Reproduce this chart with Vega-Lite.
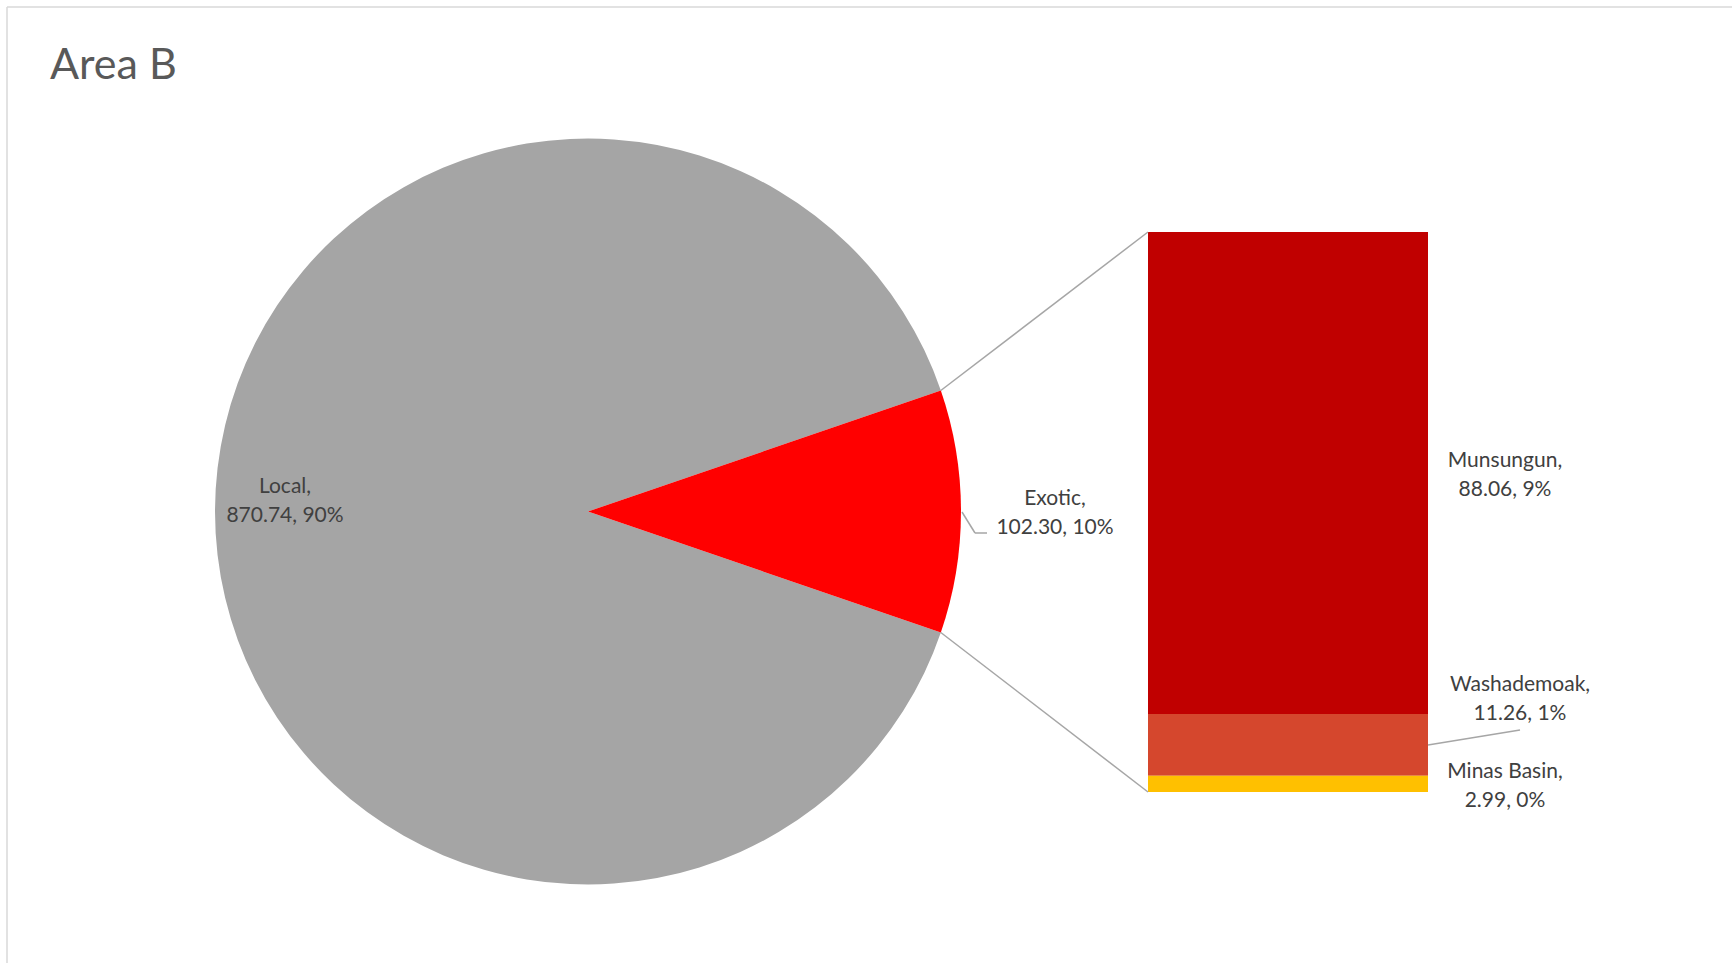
{
  "$schema": "https://vega.github.io/schema/vega-lite/v6.json",
  "width": 1725,
  "height": 956,
  "autosize": {"type": "none"},
  "padding": {"left": 7, "top": 7, "right": 0, "bottom": 0},
  "background": "white",
  "config": {
    "view": {"stroke": null},
    "font": "Lato",
    "text": {"font": "Lato", "fontSize": 21, "color": "#404040", "lineHeight": 29, "lineBreak": "\n", "align": "center", "baseline": "middle"}
  },
  "title": {
    "text": "Area B",
    "font": "Lato",
    "fontSize": 43,
    "fontWeight": "normal",
    "color": "#595959",
    "anchor": "start",
    "frame": "group",
    "baseline": "alphabetic",
    "offset": 0,
    "dx": 43,
    "dy": 116
  },
  "datasets": {
    "pie": [
      {"category": "Local", "value": 870.74, "label": "Local,\n870.74, 90%"},
      {"category": "Exotic", "value": 102.30, "label": "Exotic,\n102.30, 10%"}
    ],
    "bar": [
      {"group": "Exotic", "category": "Munsungun", "value": 88.06, "label": "Munsungun,\n88.06, 9%"},
      {"group": "Exotic", "category": "Washademoak", "value": 11.26, "label": "Washademoak,\n11.26, 1%"},
      {"group": "Exotic", "category": "Minas Basin", "value": 2.99, "label": "Minas Basin,\n2.99, 0%"}
    ]
  },
  "layer": [
    {
      "data": {"name": "pie"},
      "mark": {"type": "arc", "x": 581, "y": 504.5, "outerRadius": 373},
      "encoding": {
        "theta": {"field": "value", "type": "quantitative", "stack": true, "scale": {"range": [1.90108, 8.18427]}},
        "order": {"field": "value", "sort": "descending"},
        "color": {
          "field": "category", "type": "nominal", "legend": null,
          "scale": {
            "domain": ["Local", "Exotic", "Munsungun", "Washademoak", "Minas Basin"],
            "range": ["#A5A5A5", "#FF0000", "#C00000", "#D5472D", "#FFC000"]
          }
        }
      }
    },
    {
      "data": {"name": "pie"},
      "mark": {"type": "text", "x": 581, "y": 504.5, "radius": 303, "dy": -25},
      "encoding": {
        "theta": {"field": "value", "type": "quantitative", "stack": true},
        "order": {"field": "value", "sort": "descending"},
        "text": {"condition": {"test": "datum.category === 'Local'", "field": "label", "type": "nominal"}, "value": ""}
      }
    },
    {
      "data": {"name": "pie"},
      "mark": {"type": "text", "x": 581, "y": 504.5, "radius": 467, "dy": -12},
      "encoding": {
        "theta": {"field": "value", "type": "quantitative", "stack": true},
        "order": {"field": "value", "sort": "descending"},
        "text": {"condition": {"test": "datum.category === 'Exotic'", "field": "label", "type": "nominal"}, "value": ""}
      }
    },
    {
      "data": {"name": "bar"},
      "mark": {"type": "bar"},
      "encoding": {
        "x": {"field": "group", "type": "nominal", "axis": null, "scale": {"range": [1141, 1421], "paddingInner": 0, "paddingOuter": 0}},
        "y": {"field": "value", "type": "quantitative", "stack": "zero", "axis": null, "scale": {"domain": [0, 102.31], "range": [785, 225], "nice": false, "zero": true}},
        "order": {"field": "value", "sort": "ascending"},
        "color": {"field": "category", "type": "nominal", "legend": null}
      }
    },
    {
      "data": {"name": "bar"},
      "mark": {"type": "text", "dx": 217, "dy": -12},
      "encoding": {
        "x": {"field": "group", "type": "nominal"},
        "y": {"field": "value", "type": "quantitative", "stack": "zero", "bandPosition": 0.5},
        "order": {"field": "value", "sort": "ascending"},
        "text": {"condition": {"test": "datum.category !== 'Washademoak'", "field": "label", "type": "nominal"}, "value": ""}
      }
    },
    {
      "data": {"name": "bar"},
      "mark": {"type": "text", "dx": 232, "dy": -60},
      "encoding": {
        "x": {"field": "group", "type": "nominal"},
        "y": {"field": "value", "type": "quantitative", "stack": "zero", "bandPosition": 0.5},
        "order": {"field": "value", "sort": "ascending"},
        "text": {"condition": {"test": "datum.category === 'Washademoak'", "field": "label", "type": "nominal"}, "value": ""}
      }
    },
    {
      "data": {"values": [{}]},
      "mark": {"type": "rule", "color": "#A6A6A6", "strokeWidth": 1.5},
      "encoding": {"x": {"value": 933.8}, "y": {"value": 383.5}, "x2": {"value": 1141}, "y2": {"value": 225}}
    },
    {
      "data": {"values": [{}]},
      "mark": {"type": "rule", "color": "#A6A6A6", "strokeWidth": 1.5},
      "encoding": {"x": {"value": 933.8}, "y": {"value": 625.5}, "x2": {"value": 1141}, "y2": {"value": 785}}
    },
    {
      "data": {"values": [{}]},
      "mark": {"type": "rule", "color": "#A6A6A6", "strokeWidth": 1.5},
      "encoding": {"x": {"value": 1421}, "y": {"value": 738}, "x2": {"value": 1513}, "y2": {"value": 723}}
    },
    {
      "data": {"values": [{}]},
      "mark": {"type": "rule", "color": "#A6A6A6", "strokeWidth": 1.5},
      "encoding": {"x": {"value": 955}, "y": {"value": 505}, "x2": {"value": 968}, "y2": {"value": 526}}
    },
    {
      "data": {"values": [{}]},
      "mark": {"type": "rule", "color": "#A6A6A6", "strokeWidth": 1.5},
      "encoding": {"x": {"value": 968}, "y": {"value": 526}, "x2": {"value": 980}, "y2": {"value": 526}}
    },
    {
      "data": {"values": [{}]},
      "mark": {"type": "rule", "color": "#D9D9D9", "strokeWidth": 1.5},
      "encoding": {"x": {"value": 0}, "y": {"value": 0}, "y2": {"value": 956}}
    },
    {
      "data": {"values": [{}]},
      "mark": {"type": "rule", "color": "#D9D9D9", "strokeWidth": 1.5},
      "encoding": {"x": {"value": 0}, "x2": {"value": 1725}, "y": {"value": 0}}
    }
  ]
}
